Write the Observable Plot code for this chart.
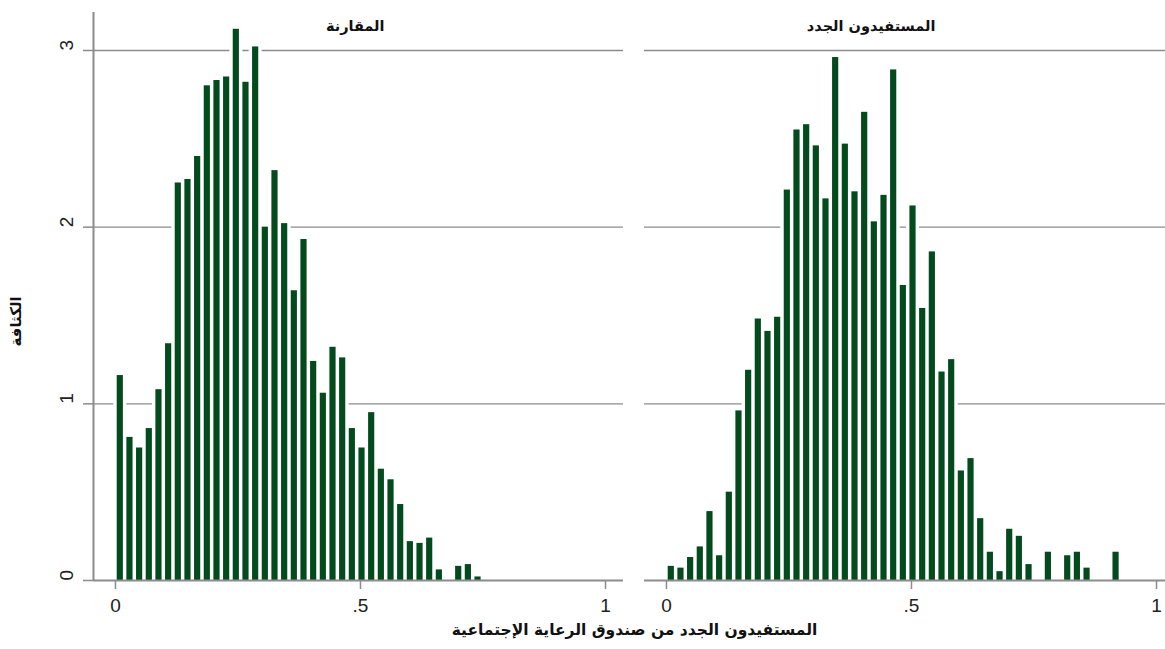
<!DOCTYPE html>
<html><head><meta charset="utf-8">
<script src="https://cdn.jsdelivr.net/npm/d3@7"></script>
<script src="https://cdn.jsdelivr.net/npm/@observablehq/plot@0.6"></script>
<style>
html,body{margin:0;padding:0;background:#fff;overflow:hidden}
#chart{width:1165px;height:649px;overflow:hidden}
#chart svg{max-width:none !important;width:1175px !important;height:649px !important}
</style></head><body><div id="chart"></div>
<script>
// ---- data ----
const facetNames = ["المقارنة", "المستفيدون الجدد"];
const comparisonDensity = [1.16, 0.81, 0.75, 0.86, 1.08, 1.34, 2.25, 2.27, 2.40, 2.80, 2.83, 2.85, 3.12, 2.82, 3.02, 2.00, 2.32, 2.02, 1.64, 1.93, 1.24, 1.06, 1.32, 1.26, 0.86, 0.75, 0.95, 0.63, 0.57, 0.43, 0.22, 0.21, 0.24, 0.06, 0, 0.08, 0.09, 0.02];
const newBeneficiaryDensity = [0.08, 0.07, 0.13, 0.19, 0.39, 0.14, 0.50, 0.96, 1.19, 1.48, 1.41, 1.49, 2.21, 2.55, 2.58, 2.46, 2.16, 2.96, 2.47, 2.20, 2.65, 2.03, 2.18, 2.89, 1.67, 2.12, 1.54, 1.86, 1.18, 1.25, 0.62, 0.69, 0.35, 0.16, 0.05, 0.29, 0.25, 0.09, 0, 0.16, 0, 0.14, 0.16, 0.07, 0, 0, 0.16];
const binStart = 0;
const binWidth = 0.01973;
const xTicks = [0, 0.5, 1];
const xTickLabels = ["0", ".5", "1"];
const yTicks = [0, 1, 2, 3];
const yTickLabels = ["0", "1", "2", "3"];
const xLabel = "المستفيدون الجدد من صندوق الرعاية الإجتماعية";
const yLabel = "الكثافة";

// ---- table ----
const bins = [];
[comparisonDensity, newBeneficiaryDensity].forEach((arr, g) => arr.forEach((v, i) => {
  if (v > 0) bins.push({group: facetNames[g], x1: binStart + i * binWidth, x2: binStart + (i + 1) * binWidth, density: v});
}));

const arabicFont = "'DejaVu Sans', sans-serif";
const numFont = "'Liberation Sans Narrow', 'Liberation Sans', sans-serif";
const axisGray = "#8c8c8c";
const barGreen = "#034a1d";
const xDomain = [-0.0448, 1.0367];
const leftFacet = [facetNames[0]];

const chart = Plot.plot({
  width: 1175, height: 649,
  marginLeft: 92, marginRight: 0, marginTop: 12, marginBottom: 69,
  style: {background: "white", overflow: "visible", maxWidth: "none"},
  x: {domain: xDomain},
  y: {domain: [0, 3.215]},
  fx: {domain: facetNames, paddingInner: 0.0375, paddingOuter: 0, axis: null, label: null},
  marks: [
    Plot.gridY(yTicks.filter(d => d > 0), {stroke: axisGray, strokeOpacity: 1, strokeWidth: 1.4}),
    Plot.rect(bins, {x1: "x1", x2: "x2", y1: 0, y2: "density", fx: "group", fill: "white", insetLeft: -1.7, insetRight: -1.7, insetTop: -1.7}),
    Plot.rect(bins, {x1: "x1", x2: "x2", y1: 0, y2: "density", fx: "group", fill: barGreen, insetLeft: 1.75, insetRight: 1.75}),
    Plot.ruleY([0], {stroke: axisGray, strokeWidth: 2}),
    Plot.ruleX(leftFacet, {fx: d => d, x: () => xDomain[0], stroke: axisGray, strokeWidth: 2}),
    Plot.axisY(yTicks, {tickSize: 10, tickFormat: () => "", stroke: axisGray, strokeWidth: 1.5}),
    Plot.text(yTicks.map((t, i) => ({fx: facetNames[0], y: t, label: yTickLabels[i]})), {
      fx: "fx", y: "y", text: "label", frameAnchor: "left", dx: -27, rotate: -90,
      fontSize: 19, fontFamily: numFont, fill: "#222"
    }),
    Plot.axisX(xTicks, {
      tickSize: 9, tickPadding: 9, tickFormat: d => xTickLabels[xTicks.indexOf(d)],
      fontSize: 19, fontFamily: numFont, stroke: axisGray, strokeWidth: 1.5, fill: "#222", label: null
    }),
    Plot.text(facetNames, {
      fx: d => d, text: d => d, frameAnchor: "top", textAnchor: "end", dx: 26, dy: 8,
      fontWeight: "bold", fontSize: 14.5, fontFamily: arabicFont, fill: "#111"
    }),
    Plot.text(leftFacet, {
      fx: d => d, text: () => xLabel, frameAnchor: "bottom", dx: 276, dy: 54,
      fontWeight: "bold", fontSize: 15.5, fontFamily: arabicFont, fill: "#111"
    }),
    Plot.text(leftFacet, {
      fx: d => d, text: () => yLabel, frameAnchor: "left", dx: -77, dy: 50, rotate: -90,
      fontWeight: "bold", fontSize: 15, fontFamily: arabicFont, fill: "#111"
    })
  ]
});
document.getElementById("chart").appendChild(chart);
</script>
</body></html>
